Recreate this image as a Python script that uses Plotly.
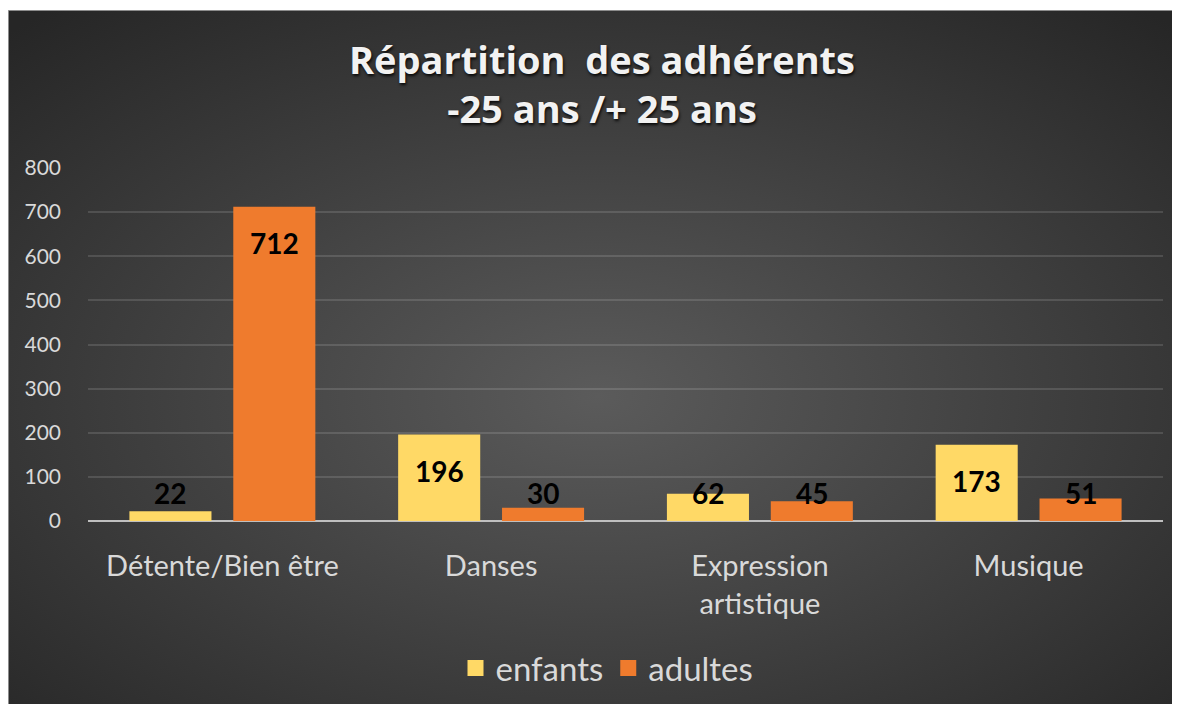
import base64
import plotly.graph_objects as go

categories = ["Détente/Bien être", "Danses", "Expression<br>artistique", "Musique"]
enfants = [22, 196, 62, 173]
adultes = [712, 30, 45, 51]
series_names = ["enfants", "adultes"]
y_ticks = [0, 100, 200, 300, 400, 500, 600, 700, 800]

YELLOW = "#FFD966"
ORANGE = "#EF7B2D"
TXT = "#D9D9D9"
FONT = "Lato"

W, H = 1180, 704
ML, MR, MT, MB = 80, 25, 160, 191
PW, PH = W - ML - MR, H - MT - MB
TOPGAP = 2.5  # small white strip above the chart box

svg = ('<svg xmlns="http://www.w3.org/2000/svg" width="1180" height="700" preserveAspectRatio="none">'
       '<defs><radialGradient id="g" cx="50%" cy="55%" r="72%">'
       '<stop offset="0" stop-color="#5b5b5b"/><stop offset="1" stop-color="#262626"/>'
       '</radialGradient></defs><rect width="1180" height="700" fill="url(#g)"/></svg>')
uri = "data:image/svg+xml;base64," + base64.b64encode(svg.encode()).decode()

fig = go.Figure()
fig.add_trace(go.Bar(x=categories, y=enfants, name=series_names[0],
                     marker=dict(color=YELLOW, line=dict(width=0)), showlegend=False))
fig.add_trace(go.Bar(x=categories, y=adultes, name=series_names[1],
                     marker=dict(color=ORANGE, line=dict(width=0)), showlegend=False))
# legend proxies
for nm, col in zip(series_names, [YELLOW, ORANGE]):
    fig.add_trace(go.Scatter(x=[None], y=[None], mode="markers", name=nm,
                             marker=dict(symbol="square", size=16, color=col)))

# data labels: inside end, clamped near the base for short bars
px_per_unit = PH / 800
annos = []
for k, vals in enumerate([enfants, adultes]):
    for i, v in enumerate(vals):
        if v * px_per_unit > 64:
            yv, ys = v, -36
        else:
            yv, ys = 0, 28
        annos.append(dict(x=categories[i], y=yv, yshift=ys, text=f"<b>{v}</b>",
                          xref="x", yref="y", showarrow=False, yanchor="middle",
                          xshift=(-52 if k == 0 else 52),
                          font=dict(family=FONT, size=28, color="black")))

fig.update_layout(
    width=W, height=H,
    margin=dict(l=ML, r=MR, t=MT, b=MB, autoexpand=False),
    paper_bgcolor="white", plot_bgcolor="rgba(0,0,0,0)",
    barmode="group", bargap=0.227, bargroupgap=0.21,
    title=dict(text="Répartition  des adhérents<br>-25 ans /+ 25 ans",
               x=594 / W, xanchor="center", y=1 - 66 / H, yanchor="middle",
               yref="container",
               font=dict(family="Open Sans", size=38, color="#F2F2F2", weight="bold",
                         shadow="1px 2px 3px rgba(0,0,0,0.85)")),
    xaxis=dict(showgrid=False, tickfont=dict(family=FONT, size=29, color=TXT),
               ticks="", ticklabelstandoff=25, showline=False, zeroline=False),
    yaxis=dict(range=[0, 800], tickvals=y_ticks, showgrid=True,
               gridcolor="rgba(255,255,255,0.13)", gridwidth=1.5,
               zeroline=True, zerolinecolor="#BFBFBF", zerolinewidth=2,
               tickfont=dict(family=FONT, size=21, color=TXT), ticks="",
               ticklabelstandoff=26),
    legend=dict(orientation="h", x=(599 - ML) / PW, xanchor="center",
                y=(MT + PH - 660) / PH, yanchor="middle",
                font=dict(family=FONT, size=33, color=TXT),
                bgcolor="rgba(0,0,0,0)", itemsizing="trace"),
    annotations=annos,
    images=[dict(source=uri, xref="paper", yref="paper",
                 x=-ML / PW, y=(MT + PH - TOPGAP) / PH,
                 sizex=W / PW, sizey=(H - TOPGAP) / PH,
                 xanchor="left", yanchor="top", sizing="stretch", layer="below")],
    shapes=[dict(type="rect", xref="paper", yref="paper",
                 x0=(-ML + 0.5) / PW, x1=(W + 5) / PW,
                 y0=(MT + PH - H - 5) / PH, y1=(MT + PH - TOPGAP) / PH,
                 line=dict(color="#8C8C8C", width=1), layer="below")],
)

fig.write_html("out.html")
